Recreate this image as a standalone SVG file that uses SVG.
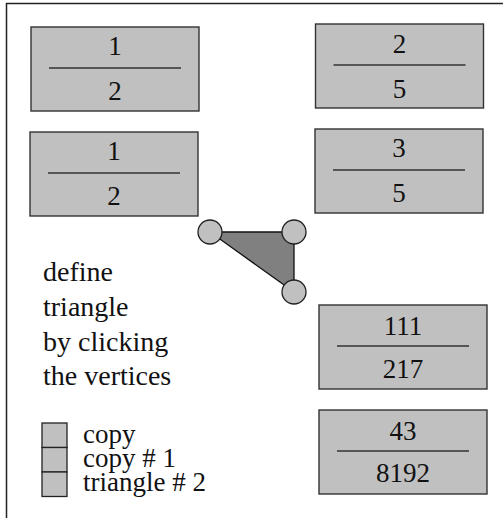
<svg xmlns="http://www.w3.org/2000/svg" width="503" height="518" viewBox="0 0 503 518">
  <style>
    .box { fill: #c0c0c0; stroke: #333; stroke-width: 1.4; }
    .bar { stroke: #333; stroke-width: 1.5; }
    text { font-family: 'Liberation Serif', 'DejaVu Serif', serif; fill: #111; }
    .num { font-size: 27px; text-anchor: middle; }
    .lbl { font-size: 28px; }
    .leg { font-size: 27px; }
    .knob { fill: #c0c0c0; stroke: #222; stroke-width: 1.3; }
    .swatch { fill: #c0c0c0; stroke: #222; stroke-width: 1.3; }
  </style>
  <defs>
    <g id="frac">
      <rect class="box" x="0" y="0" width="168" height="84"/>
      <line class="bar" x1="18" y1="41" x2="150" y2="41"/>
    </g>
  </defs>

  <rect width="503" height="518" fill="#fff"/>
  <!-- window frame -->
  <path d="M6.5,520 V3.5 H510" fill="none" stroke="#222" stroke-width="1.5"/>

  <g font-family="Liberation Serif, DejaVu Serif, serif">
    <g id="frac-1-2a" transform="translate(31,27)">
      <use href="#frac"/>
      <text class="num" x="84" y="28">1</text>
      <text class="num" x="84" y="73">2</text>
    </g>
    <g id="frac-1-2b" transform="translate(30,132)">
      <use href="#frac"/>
      <text class="num" x="84" y="28">1</text>
      <text class="num" x="84" y="73">2</text>
    </g>
    <g id="frac-2-5" transform="translate(315.5,24)">
      <use href="#frac"/>
      <text class="num" x="84" y="29">2</text>
      <text class="num" x="84" y="74">5</text>
    </g>
    <g id="frac-3-5" transform="translate(315,129)">
      <use href="#frac"/>
      <text class="num" x="84" y="28">3</text>
      <text class="num" x="84" y="73">5</text>
    </g>
    <g id="frac-111-217" transform="translate(319,305)">
      <use href="#frac"/>
      <text class="num" x="84" y="30">111</text>
      <text class="num" x="84" y="73">217</text>
    </g>
    <g id="frac-43-8192" transform="translate(319,410)">
      <use href="#frac"/>
      <text class="num" x="84" y="30">43</text>
      <text class="num" x="84" y="72">8192</text>
    </g>

    <!-- triangle with its three vertex handles -->
    <g id="triangle">
      <polygon points="210,232 294,232 294,292" fill="#808080" stroke="#111" stroke-width="1.3"/>
      <circle class="knob" cx="210" cy="232" r="12"/>
      <circle class="knob" cx="294" cy="232" r="12"/>
      <circle class="knob" cx="294" cy="292" r="12"/>
    </g>

    <g id="instructions">
      <text class="lbl" x="43" y="281">define</text>
      <text class="lbl" x="43" y="316">triangle</text>
      <text class="lbl" x="43" y="351">by clicking</text>
      <text class="lbl" x="43" y="385">the vertices</text>
    </g>

    <g id="legend">
      <rect class="swatch" x="42" y="423" width="25" height="24.5"/>
      <rect class="swatch" x="42" y="447.5" width="25" height="24.5"/>
      <rect class="swatch" x="42" y="472" width="25" height="24.5"/>
      <text class="leg" x="83" y="443">copy</text>
      <text class="leg" x="83" y="467">copy # 1</text>
      <text class="leg" x="83" y="491">triangle # 2</text>
    </g>
  </g>
</svg>
